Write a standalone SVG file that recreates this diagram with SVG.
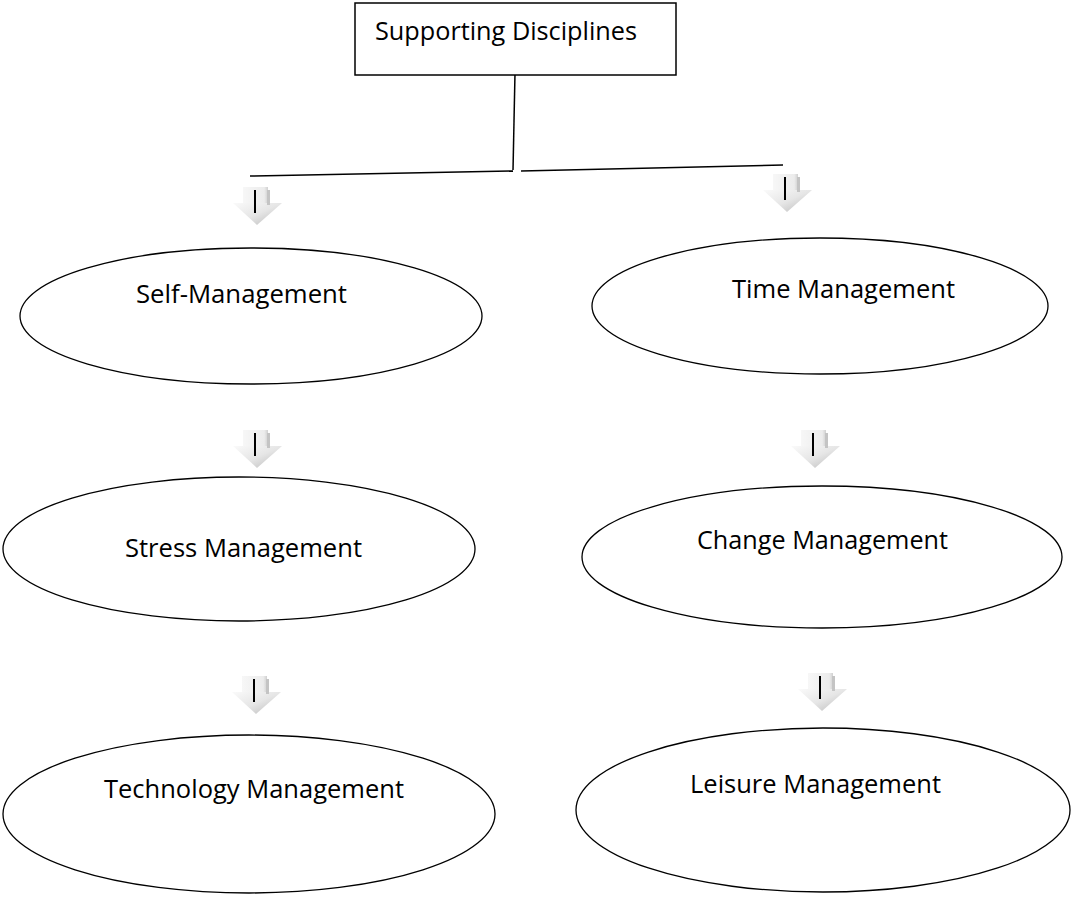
<svg xmlns="http://www.w3.org/2000/svg" width="1078" height="915" viewBox="0 0 1078 915">
<style>
.box{fill:#fff;stroke:#000;stroke-width:1.5}
.ell{fill:#fff;stroke:#000;stroke-width:1.3}
.lbl{font-family:"Open Sans","Noto Sans",sans-serif;font-size:26px;fill:#000}
.con{fill:none;stroke:#000;stroke-width:1.5}
</style>
<defs>
<linearGradient id="hg" x1="0" y1="0" x2="1" y2="1">
<stop offset="0" stop-color="#fafafa"/><stop offset="0.5" stop-color="#e6e6e6"/><stop offset="1" stop-color="#b8b8b8"/>
</linearGradient>
<linearGradient id="sg" x1="0" y1="0" x2="1" y2="0">
<stop offset="0" stop-color="#f7f7f7"/><stop offset="0.85" stop-color="#ececec"/><stop offset="1" stop-color="#d0d0d0"/>
</linearGradient>
<g id="arr">
<rect x="-14" y="0" width="25" height="17" fill="url(#sg)"/>
<polygon points="-24,16 25,16 0,38" fill="url(#hg)"/>
<rect x="10" y="3" width="3" height="15" fill="#c4c4c4"/>
<line x1="-2" y1="3" x2="-2" y2="26" stroke="#000" stroke-width="2"/>
</g>
</defs>
<g id="connectors">
<polyline class="con" points="515,73 513,170"/>
<line class="con" x1="250" y1="176" x2="513" y2="171"/>
<line class="con" x1="521" y1="171" x2="783" y2="165"/>
<use href="#arr" x="257" y="187"/>
<use href="#arr" x="787" y="174"/>
<use href="#arr" x="257" y="430"/>
<use href="#arr" x="815" y="430"/>
<use href="#arr" x="256" y="676"/>
<use href="#arr" x="822" y="673"/>
</g>
<g id="supporting-disciplines">
<rect class="box" x="355" y="3" width="321" height="72"/>
<text class="lbl" x="375" y="40" textLength="262" lengthAdjust="spacingAndGlyphs">Supporting Disciplines</text>
</g>
<g id="self-management">
<ellipse class="ell" cx="251" cy="316" rx="231" ry="68"/>
<text class="lbl" x="136" y="303" textLength="211" lengthAdjust="spacingAndGlyphs">Self-Management</text>
</g>
<g id="time-management">
<ellipse class="ell" cx="820" cy="306" rx="228" ry="68"/>
<text class="lbl" x="732" y="298" textLength="223" lengthAdjust="spacingAndGlyphs">Time Management</text>
</g>
<g id="stress-management">
<ellipse class="ell" cx="239" cy="549" rx="236" ry="72"/>
<text class="lbl" x="125" y="557" textLength="237" lengthAdjust="spacingAndGlyphs">Stress Management</text>
</g>
<g id="change-management">
<ellipse class="ell" cx="822" cy="557" rx="240" ry="71"/>
<text class="lbl" x="697" y="549" textLength="251" lengthAdjust="spacingAndGlyphs">Change Management</text>
</g>
<g id="technology-management">
<ellipse class="ell" cx="249" cy="814" rx="246" ry="79"/>
<text class="lbl" x="104" y="798" textLength="300" lengthAdjust="spacingAndGlyphs">Technology Management</text>
</g>
<g id="leisure-management">
<ellipse class="ell" cx="823" cy="810" rx="247" ry="82"/>
<text class="lbl" x="690" y="793" textLength="251" lengthAdjust="spacingAndGlyphs">Leisure Management</text>
</g>
</svg>
